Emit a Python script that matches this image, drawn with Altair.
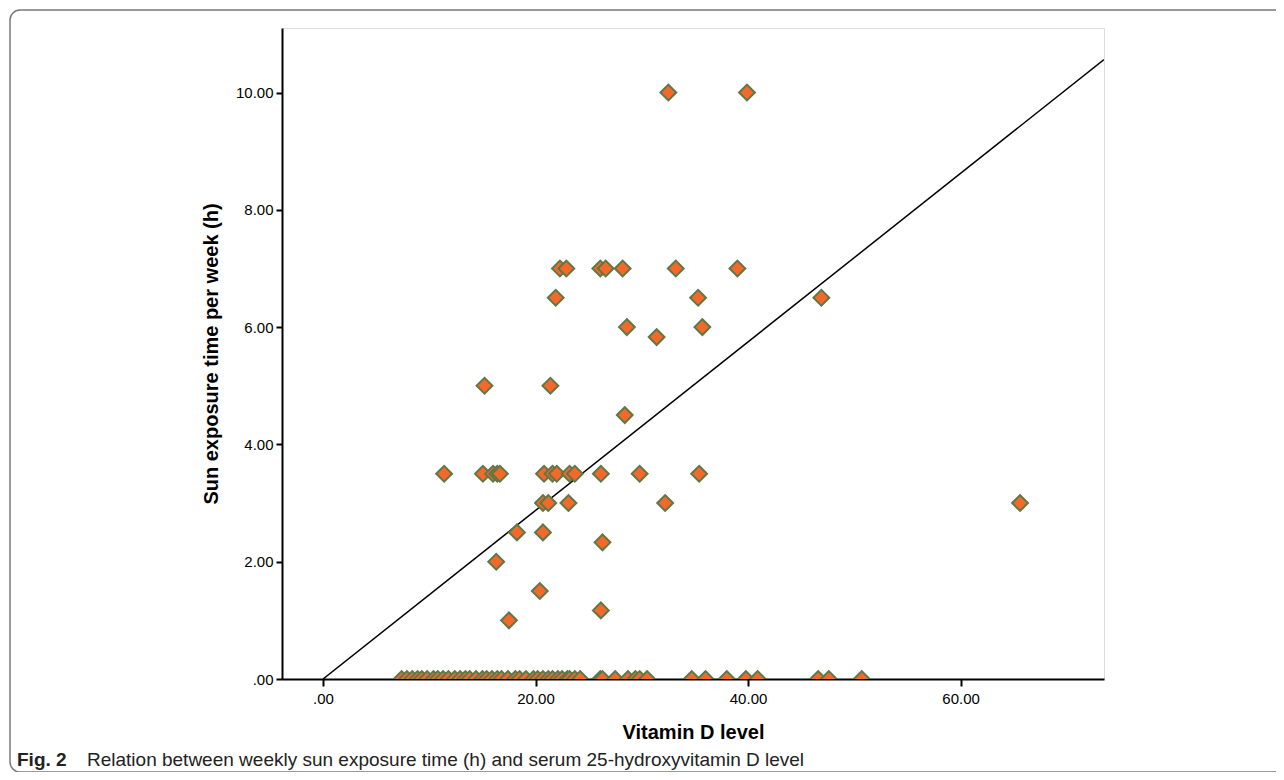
import altair as alt
import pandas as pd

# Non-zero observations: vitamin D level (x) and weekly sun exposure hours (y)
vit_d = [32.5, 39.9,
         22.3, 22.9, 26.1, 26.6, 28.2, 33.2, 39.0,
         21.9, 35.3, 46.9,
         28.6, 35.7,
         31.4,
         15.2, 21.4,
         28.4,
         11.4, 15.05, 16.0, 16.4, 16.65, 20.8, 21.6, 22.0, 23.2, 23.7, 26.15, 29.8, 35.4,
         20.7, 21.2, 23.1, 32.2, 65.6,
         18.25, 20.7,
         26.3, 16.3, 20.4, 26.15, 17.5]
sun_h = [10, 10,
         7, 7, 7, 7, 7, 7, 7,
         6.5, 6.5, 6.5,
         6, 6,
         5.83,
         5, 5,
         4.5,
         3.5, 3.5, 3.5, 3.5, 3.5, 3.5, 3.5, 3.5, 3.5, 3.5, 3.5, 3.5, 3.5,
         3, 3, 3, 3, 3,
         2.5, 2.5,
         2.33, 2.0, 1.5, 1.17, 1.0]

# Observations with zero sun exposure
vit_d_zero = [7.4, 7.9, 8.4, 8.9, 9.3, 9.8, 10.4, 10.8, 11.3, 11.8, 12.4, 12.9, 13.4,
              13.8, 14.4, 15.0, 15.4, 15.9, 16.4, 16.8, 17.4, 18.1, 18.5, 19.1, 19.8,
              20.2, 20.7, 21.2, 21.6, 22.1, 22.5, 23.0, 23.2, 23.7, 24.2, 26.1, 26.3,
              27.5, 28.7, 29.4, 29.8, 30.5, 34.7, 36.0, 38.0, 39.8, 40.9, 46.6, 47.6, 50.7]

# Fit line (through origin) endpoints
fit_x = [0.0, 73.5]
fit_slope = 0.1437
fit_y = [fit_slope * v for v in fit_x]

x_ticks = [0, 20, 40, 60]
y_ticks = [0, 2, 4, 6, 8, 10]

pts = pd.DataFrame({
    "x": vit_d + vit_d_zero,
    "y": sun_h + [0.0] * len(vit_d_zero),
})
fit = pd.DataFrame({"x": fit_x, "y": fit_y})

W, H = 822, 651
xdom = [-3.86, 73.5]
ydom = [0, 11.1]
lab = "datum.value == 0 ? '.00' : format(datum.value, '.2f')"

xs = alt.Scale(domain=xdom, nice=False, zero=False)
ys = alt.Scale(domain=ydom, nice=False)

xaxis = alt.Axis(values=x_ticks, labelExpr=lab, title="Vitamin D level", grid=False,
                 labelFont="Liberation Sans", labelFontSize=15, labelColor="black",
                 titleFont="Liberation Sans", titleFontSize=20, titleFontWeight="bold",
                 titleColor="black", titlePadding=16, tickSize=7, tickWidth=2,
                 tickColor="black", domainColor="black", domainWidth=2, labelPadding=5)
yaxis = alt.Axis(values=y_ticks, labelExpr=lab, title="Sun exposure time per week (h)",
                 grid=False, labelFont="Liberation Sans", labelFontSize=15,
                 labelColor="black", titleFont="Liberation Sans", titleFontSize=20,
                 titleFontWeight="bold", titleColor="black", titlePadding=14,
                 tickSize=6, tickWidth=2, tickColor="black", domainColor="black",
                 domainWidth=2, labelPadding=3)

points = alt.Chart(pts).mark_point(
    shape="diamond", size=250, filled=True, fill="#F4692A", stroke="#5F7847",
    strokeWidth=2, opacity=1, clip=True
).encode(
    x=alt.X("x:Q", scale=xs, axis=xaxis),
    y=alt.Y("y:Q", scale=ys, axis=yaxis),
)

line = alt.Chart(fit).mark_line(color="black", strokeWidth=1.5, clip=True).encode(
    x=alt.X("x:Q", scale=xs),
    y=alt.Y("y:Q", scale=ys),
)

one = pd.DataFrame({"a": [0]})
card = alt.Chart(one).mark_rect(
    fill=None, fillOpacity=0, stroke="#7a7a7a", strokeWidth=1.5, cornerRadius=10, clip=False
).encode(
    x=alt.value(-272), x2=alt.value(1030), y=alt.value(-18), y2=alt.value(744)
)

cap_bold = alt.Chart(one).mark_text(
    text="Fig. 2", font="Liberation Sans", fontSize=19, fontWeight="bold",
    align="left", baseline="middle", color="#222222"
).encode(x=alt.value(-265), y=alt.value(732))

cap_text = alt.Chart(one).mark_text(
    text="Relation between weekly sun exposure time (h) and serum 25-hydroxyvitamin D level",
    font="Liberation Sans", fontSize=19, align="left", baseline="middle",
    color="#222222"
).encode(x=alt.value(-195), y=alt.value(732))

chart = alt.layer(card, line, points, cap_bold, cap_text).properties(
    width=W, height=H,
    autosize=alt.AutoSizeParams(type="none"),
    padding={"left": 274, "top": 20, "right": 172, "bottom": 93},
).configure_view(stroke="black", strokeWidth=1.2).configure(background="white")

chart.save("out.html", embed_options={"renderer": "svg", "actions": False})
